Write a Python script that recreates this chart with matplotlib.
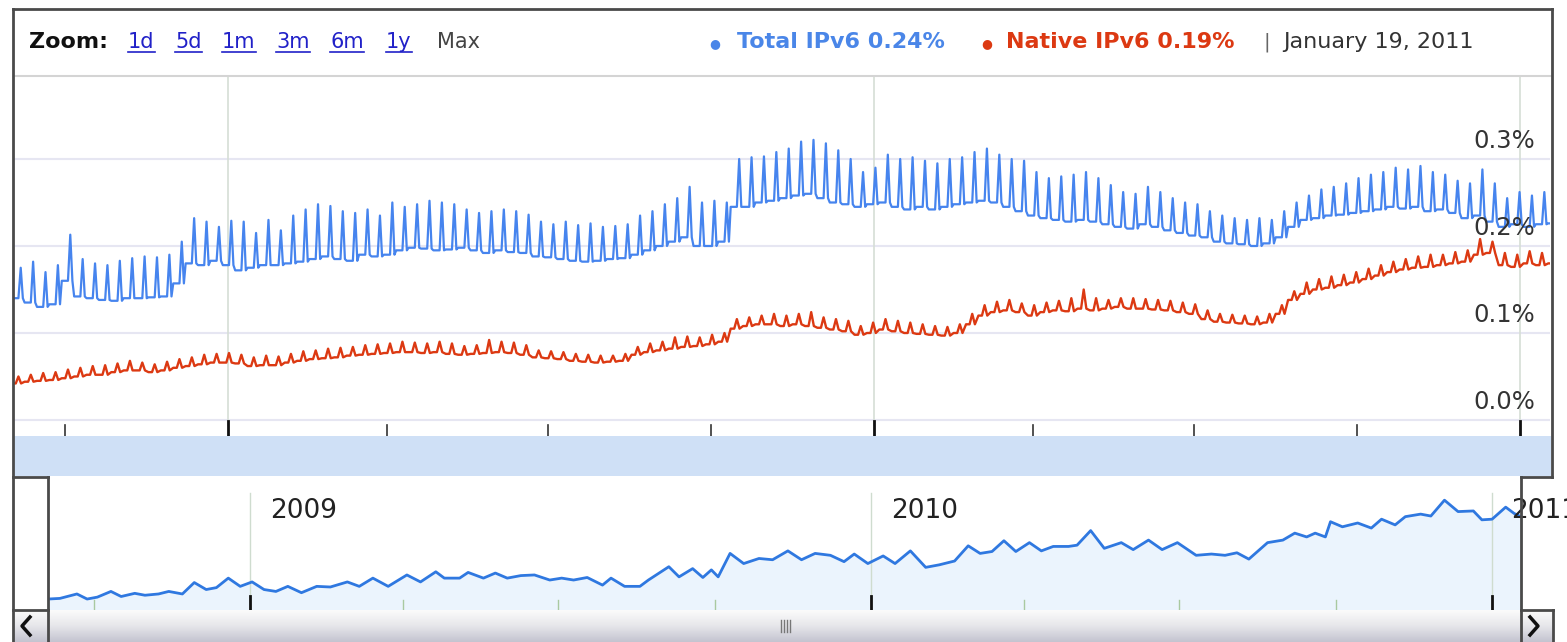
import matplotlib
matplotlib.use('Agg')
import matplotlib.pyplot as plt
import matplotlib.transforms as mtransforms
from matplotlib.lines import Line2D
from matplotlib.patches import Rectangle
import numpy as np
import pandas as pd

W, H = 1567, 642

# weekly samples, values in thousandths of a percent
weeks = pd.date_range('2008-09-01', periods=125, freq='7D')

blue_low = [140, 135, 130, 133, 160, 142, 140, 138, 137, 140,
            140, 141, 142, 157, 180, 178, 183, 178, 172, 175,
            178, 178, 180, 182, 185, 188, 185, 183, 190, 188,
            190, 195, 198, 197, 195, 196, 198, 195, 192, 195,
            193, 192, 188, 187, 185, 183, 182, 183, 185, 186,
            190, 195, 200, 205, 210, 200, 200, 205, 245, 245,
            250, 252, 255, 258, 260, 255, 250, 248, 245, 248,
            250, 245, 242, 245, 242, 245, 248, 250, 252, 250,
            245, 240, 235, 232, 230, 228, 230, 228, 225, 222,
            220, 225, 222, 218, 215, 212, 210, 205, 203, 202,
            200, 203, 210, 222, 230, 232, 235, 236, 238, 240,
            242, 245, 243, 245, 240, 242, 238, 232, 235, 228,
            222, 225, 222, 225, 226]
blue_peak = [175, 182, 170, 178, 213, 185, 180, 178, 183, 186,
             188, 187, 190, 205, 232, 228, 222, 229, 228, 215,
             230, 218, 235, 242, 248, 246, 240, 238, 242, 235,
             250, 245, 248, 252, 250, 248, 242, 238, 240, 242,
             240, 236, 228, 225, 228, 224, 226, 222, 223, 225,
             235, 240, 248, 255, 268, 250, 252, 250, 300, 302,
             303, 308, 312, 320, 322, 318, 310, 300, 285, 290,
             305, 300, 302, 298, 295, 300, 302, 308, 312, 305,
             300, 298, 285, 278, 280, 282, 285, 278, 270, 262,
             260, 268, 262, 255, 250, 248, 240, 235, 232, 230,
             232, 230, 240, 250, 258, 265, 268, 272, 278, 282,
             285, 290, 288, 292, 285, 282, 275, 272, 288, 272,
             255, 262, 258, 262, 255]
red_low = [42, 44, 45, 46, 48, 50, 52, 52, 55, 57,
           57, 55, 57, 60, 62, 64, 66, 66, 65, 62,
           63, 63, 66, 68, 70, 71, 72, 74, 75, 76,
           77, 78, 78, 77, 78, 76, 75, 76, 77, 78,
           77, 75, 72, 71, 70, 68, 67, 66, 67, 68,
           75, 78, 80, 82, 84, 85, 87, 90, 105, 108,
           110, 110, 108, 110, 108, 106, 104, 102, 98, 100,
           104, 102, 100, 99, 98, 97, 100, 110, 120, 124,
           126, 124, 120, 124, 126, 125, 128, 126, 128, 130,
           128, 128, 127, 126, 124, 122, 116, 113, 112, 111,
           110, 112, 122, 138, 145, 150, 152, 155, 158, 162,
           166, 170, 173, 175, 176, 178, 180, 182, 190, 192,
           178, 176, 180, 178, 180]
red_peak = [50, 52, 54, 55, 58, 60, 62, 63, 65, 68,
            66, 64, 67, 70, 72, 75, 76, 77, 75, 72,
            74, 73, 76, 79, 80, 82, 83, 84, 86, 87,
            88, 90, 89, 88, 90, 88, 85, 86, 92, 90,
            89, 86, 80, 79, 78, 76, 75, 74, 74, 76,
            84, 88, 90, 95, 96, 95, 98, 100, 116, 118,
            120, 122, 120, 122, 124, 118, 116, 114, 108, 112,
            116, 114, 112, 110, 108, 107, 110, 122, 132, 136,
            138, 134, 132, 135, 137, 140, 150, 140, 138, 140,
            140, 139, 138, 137, 135, 133, 126, 122, 121, 120,
            119, 122, 132, 148, 158, 162, 165, 167, 170, 174,
            178, 182, 185, 188, 190, 190, 193, 195, 208, 205,
            192, 190, 194, 192, 190]

# overview strip (native IPv6, coarser sampling): days after 2008-09-04
ov_day = [0, 7, 17, 23, 29, 37, 43, 51, 57, 65, 71, 79, 86, 93, 99, 106,
          113, 120, 127, 134, 141, 149, 158, 166, 176, 183, 191, 200, 211,
          219, 228, 233, 242, 247, 256, 263, 270, 278, 286, 295, 302, 309,
          317, 326, 331, 339, 348, 353, 365, 371, 379, 385, 390, 394, 401,
          409, 418, 426, 435, 443, 451, 460, 468, 474, 482, 491, 498, 507,
          516, 524, 533, 541, 548, 555, 562, 569, 577, 584, 591, 600, 605,
          613, 621, 631, 638, 647, 655, 664, 675, 684, 692, 699, 706, 717,
          726, 733, 740, 745, 751, 754, 761, 770, 778, 784, 792, 798, 807,
          813, 821, 829, 838, 843, 849, 857, 862, 866]
ov_val = [46, 47, 54, 46, 49, 58, 50, 55, 52, 54, 58, 54, 72, 61, 64, 79,
          66, 73, 61, 58, 66, 56, 66, 65, 73, 66, 79, 66, 84,
          73, 89, 79, 79, 88, 79, 87, 79, 83, 84, 76, 79, 76,
          80, 68, 79, 66, 66, 76, 97, 81, 94, 80, 92, 81, 118,
          102, 110, 108, 122, 108, 118, 115, 105, 117, 102, 114, 102, 122,
          96, 100, 106, 130, 118, 121, 138, 121, 135, 122, 129, 129, 131,
          154, 126, 135, 124, 139, 124, 135, 115, 117, 115, 119, 109, 135,
          139, 150, 144, 150, 144, 168, 160, 166, 158, 172, 163, 176, 180,
          177, 202, 184, 185, 171, 172, 191, 181, 176]

y_ticks = [0.0, 0.1, 0.2, 0.3]
years = ['2009', '2010', '2011']
quarters = ['2008-10-01', '2009-04-01', '2009-07-01', '2009-10-01',
            '2010-04-01', '2010-07-01', '2010-10-01']
zoom_links = ['1d', '5d', '1m', '3m', '6m', '1y']

BLUE = '#4684ee'
RED = '#dc3912'
FRAME = '#4a4a4a'


def fx(x):
    return x / W


def fy(y):
    return 1 - y / H


fig = plt.figure(figsize=(W / 100, H / 100), dpi=100)


def fline(xs, ys, color=FRAME, lw=2.0):
    fig.add_artist(Line2D([fx(x) for x in xs], [fy(y) for y in ys],
                          color=color, lw=lw, transform=fig.transFigure,
                          solid_capstyle='projecting'))


# date band under the main plot
fig.add_artist(Rectangle((fx(14), fy(476)), (1551 - 14) / W, 40 / H,
                         transform=fig.transFigure, color='#cfe0f6', lw=0))

# ---- main chart
ax = fig.add_axes([fx(14), fy(436), (1550 - 14) / W, 360 / H])
ax.set_xlim(pd.Timestamp('2008-09-02'), pd.Timestamp('2011-01-18'))
ax.set_ylim(-0.0184, 0.3954)
ax.axis('off')

for v in y_ticks:
    ax.axhline(v, color='#e6e6f2', lw=1.5, zorder=0)
for yr in years:
    ax.axvline(pd.Timestamp(yr + '-01-01'), ymin=11 / 360, ymax=1,
               color='#d6ded6', lw=1.2, zorder=0)
    ax.axvline(pd.Timestamp(yr + '-01-01'), ymin=0, ymax=15 / 360,
               color='#111111', lw=2)
for q in quarters:
    ax.axvline(pd.Timestamp(q), ymin=0, ymax=11 / 360, color='#333333', lw=1.2)

bx, by, rx, ry = [], [], [], []
for d, lo, pk in zip(weeks, blue_low, blue_peak):
    for off, v in ((0, lo), (3.5, lo), (4.8, pk), (6, lo)):
        bx.append(d + pd.Timedelta(days=off))
        by.append(v / 1000)
for d, lo, pk in zip(weeks, red_low, red_peak):
    for off, v in ((0, lo), (2, lo), (3.5, pk), (5, lo)):
        rx.append(d + pd.Timedelta(days=off))
        ry.append(v / 1000)
ax.plot(bx, by, color=BLUE, lw=1.6, zorder=3)
ax.plot(rx, ry, color=RED, lw=1.7, zorder=3)

trans_y = mtransforms.blended_transform_factory(ax.transAxes, ax.transData)
for v in y_ticks:
    ax.text(0.9902, v + 0.0125, f'{v:.1f}%', transform=trans_y, ha='right',
            va='baseline', fontsize=17.5, color='#333333', zorder=5)

trans_x = mtransforms.blended_transform_factory(ax.transData, ax.transAxes)
for yr in years[:2]:
    ax.text(pd.Timestamp(yr + '-07-02'), -19 / 360, yr, transform=trans_x,
            ha='center', va='center', fontsize=16, color='#333333', clip_on=False)

# ---- header
fline([14, 1551], [76, 76], color='#d4d4d4', lw=1.5)
fig.text(fx(29), fy(48), 'Zoom:', fontsize=16, fontweight='bold',
         color='#111111', va='baseline')
link_x = [128, 175, 222, 276, 330, 386]
fig.canvas.draw()
renderer = fig.canvas.get_renderer()
for lx, lab in zip(link_x, zoom_links):
    t = fig.text(fx(lx), fy(48), lab, fontsize=15, color='#2121c8', va='baseline')
    bb = t.get_window_extent(renderer)
    fline([bb.x0, bb.x1], [52, 52], color='#2121c8', lw=1.2)
fig.text(fx(437), fy(48), 'Max', fontsize=15, color='#444444', va='baseline')

fig.text(fx(709), fy(47), '●', fontsize=9, color='#4a86e8', va='baseline')
fig.text(fx(737), fy(48), 'Total IPv6 0.24%', fontsize=16, fontweight='bold',
         color='#4a86e8', va='baseline')
fig.text(fx(981), fy(47), '●', fontsize=9, color=RED, va='baseline')
fig.text(fx(1006), fy(48), 'Native IPv6 0.19%', fontsize=16, fontweight='bold',
         color=RED, va='baseline')
fig.text(fx(1264), fy(48), '|', fontsize=14, color='#666666', va='baseline')
fig.text(fx(1283), fy(48), 'January 19, 2011', fontsize=16, color='#333333',
         va='baseline')

# ---- overview
ax2 = fig.add_axes([fx(48), fy(610), (1521 - 48) / W, 132 / H])
ov_start = pd.Timestamp('2008-09-04')
ax2.set_xlim(ov_start, pd.Timestamp('2011-01-18'))
ax2.set_ylim(0.0287, 0.237)
ax2.axis('off')
ox = [ov_start + pd.Timedelta(days=d) for d in ov_day]
ov = [v / 1000 for v in ov_val]
ax2.fill_between(ox, ov, 0, color='#ebf4fd', lw=0)
for yr in years:
    d = pd.Timestamp(yr + '-01-01')
    ax2.axvline(d, ymin=0, ymax=117 / 132, color='#cfdccf', lw=1)
    ax2.axvline(d, ymin=0, ymax=14 / 132, color='#111111', lw=2)
    ax2.annotate(yr, (d, 1 - 20 / 132), xycoords=('data', 'axes fraction'),
                 xytext=(14, 0), textcoords='offset points', ha='left',
                 va='top', fontsize=19, color='#222222', annotation_clip=False)
for q in quarters:
    ax2.axvline(pd.Timestamp(q), ymin=0, ymax=10 / 132, color='#a9c9a0', lw=1)
ax2.plot(ox, ov, color='#2f78e0', lw=2)

# ---- scrollbar
ax3 = fig.add_axes([fx(14), fy(642), (1553 - 14) / W, 32 / H])
ax3.imshow(np.linspace(0, 1, 50).reshape(-1, 1), aspect='auto',
           cmap=matplotlib.colors.LinearSegmentedColormap.from_list(
               'sb', ['#fbfbfb', '#e6e6ea', '#c4c4d0']),
           extent=[0, 1, 0, 1])
ax3.axis('off')
for gx in (781, 784, 787, 790):
    fline([gx, gx], [620, 632], color='#777777', lw=1)
fline([30, 22, 30], [617, 626, 635], color='#111111', lw=2.5)
fline([1530, 1538, 1530], [617, 626, 635], color='#111111', lw=2.5)

# ---- frames
fline([13, 1552], [9, 9])
fline([13, 13], [9, 642])
fline([1552, 1552], [9, 477])
fline([13, 48], [477, 477])
fline([1521, 1552], [477, 477])
fline([48, 48], [477, 642])
fline([1521, 1521], [477, 642])
fline([13, 48], [610, 610])
fline([1521, 1553], [610, 610])
fline([1553, 1553], [610, 642])

fig.savefig('out.png', dpi=100)
